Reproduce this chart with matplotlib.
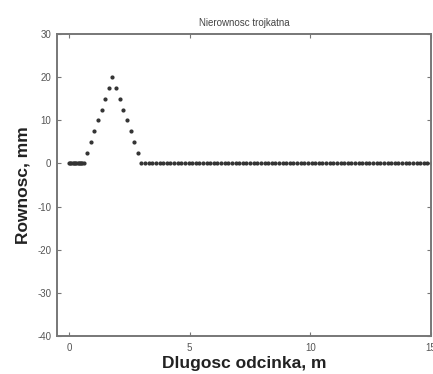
import numpy as np
import matplotlib
matplotlib.use("Agg")
import matplotlib.pyplot as plt

# Data (metres, millimetres)
x_flat_left = [0.0, 0.05, 0.10, 0.15, 0.20, 0.25, 0.30, 0.35, 0.40, 0.45, 0.50, 0.55, 0.60]
y_flat_left = [0.0] * len(x_flat_left)
x_triangle = [0.75, 0.90, 1.05, 1.20, 1.35, 1.50, 1.65, 1.80, 1.95, 2.10, 2.25, 2.40, 2.55, 2.70, 2.85]
y_triangle = [2.5, 5.0, 7.5, 10.0, 12.5, 15.0, 17.5, 20.0, 17.5, 15.0, 12.5, 10.0, 7.5, 5.0, 2.5]
x_flat_right = list(np.round(np.arange(3.0, 15.01, 0.15), 2))
y_flat_right = [0.0] * len(x_flat_right)

xticks = [0, 5, 10, 15]
yticks = [-40, -30, -20, -10, 0, 10, 20, 30]

plt.rcParams['font.family'] = ['Liberation Sans', 'DejaVu Sans']
plt.rcParams['axes.unicode_minus'] = False

fig = plt.figure(figsize=(4.33, 3.74), dpi=100)
ax = fig.add_axes([57/433, 1-336/374, (431-57)/433, (336-34)/374])

x = x_flat_left + x_triangle + x_flat_right
y = y_flat_left + y_triangle + y_flat_right
ax.plot(x, y, linestyle='none', marker='.', markersize=4, color='#333333')

ax.set_xlim(-0.5, 15)
ax.set_ylim(-40, 30)
ax.set_xticks(xticks)
ax.set_yticks(yticks)
ax.tick_params(direction='in', length=3, width=0.8, colors='#777777',
               labelcolor='#555555', labelsize=7, top=True, right=True)
ax.tick_params(axis='x', pad=5)
ax.tick_params(axis='y', pad=4)
for s in ax.spines.values():
    s.set_color('#777777')
    s.set_linewidth(1.4)

ax.set_title('Nierownosc trojkatna', fontsize=7, color='#444444', pad=6)
ax.set_xlabel('Dlugosc odcinka, m', fontsize=12.5, fontweight='bold', color='#222222', labelpad=2)
ax.set_ylabel('Rownosc, mm', fontsize=12.5, fontweight='bold', color='#222222', labelpad=5)

fig.savefig('out.png', dpi=100)
